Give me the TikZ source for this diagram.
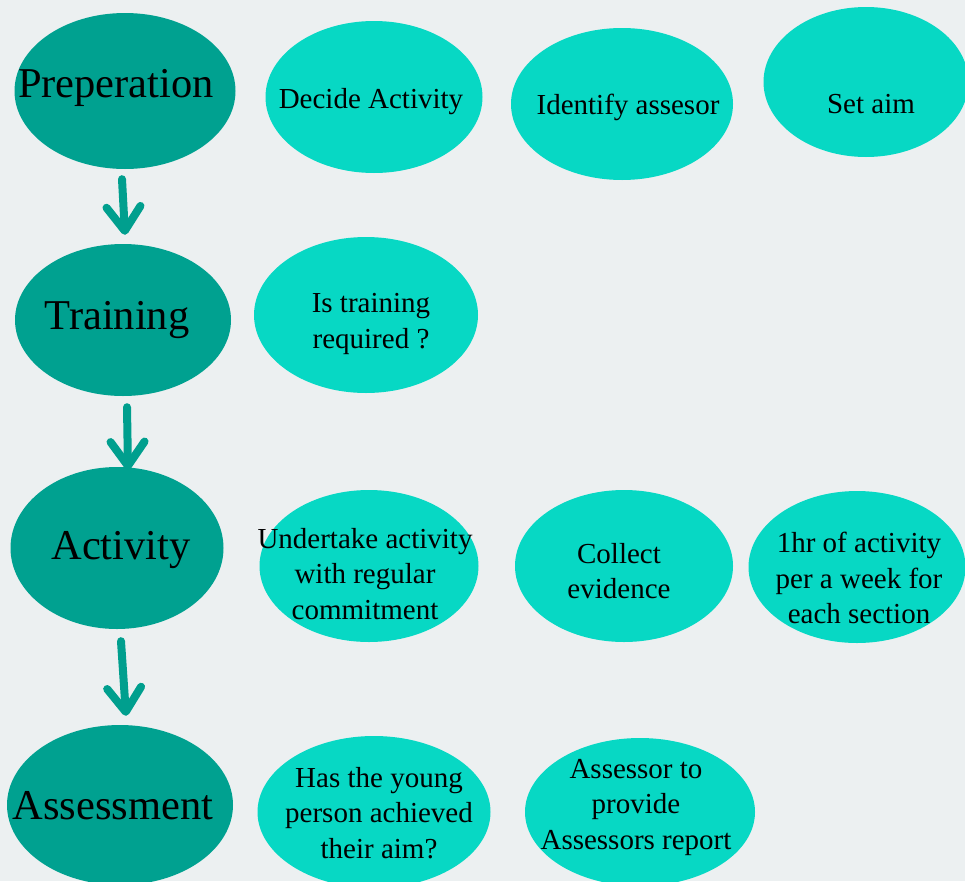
\documentclass[tikz,border=0pt]{standalone}
\usepackage{fontspec}
\setmainfont{Liberation Serif}
\usetikzlibrary{shapes.geometric,arrows.meta,calc}
\definecolor{bgc}{HTML}{ECF0F1}
\definecolor{darkteal}{HTML}{00A190}
\definecolor{lightteal}{HTML}{07D8C4}
\definecolor{arrc}{HTML}{009F8E}
\tikzset{
  darkell/.style={ellipse, fill=darkteal, draw=none, inner sep=0pt},
  lightell/.style={ellipse, fill=lightteal, draw=none, inner sep=0pt},
  bigtxt/.style={font=\fontsize{42.5}{48}\selectfont, text=black, inner sep=0pt},
  smalltxt/.style={font=\fontsize{29}{35.5}\selectfont, text=black, align=center, inner sep=0pt},
  flowarrow/.style={draw=arrc, line width=8pt, line cap=round,
    -{Straight Barb[length=24pt, width=34pt, line width=8pt, round]}}
}
\begin{document}
\begin{tikzpicture}[x=1pt,y=-1pt]
\fill[bgc] (0,0) rectangle (965,881);
\useasboundingbox (0,0) rectangle (965,881);
\begin{scope}
\clip (0,0) rectangle (965,881);
% left column
\node[darkell, minimum width=221pt, minimum height=156pt] (prep) at (125,91) {};
\node[darkell, minimum width=216pt, minimum height=152pt] (train) at (123,320) {};
\node[darkell, minimum width=213pt, minimum height=162pt] (act) at (117,548) {};
\node[darkell, minimum width=226pt, minimum height=160pt] (assess) at (120,805) {};
% row 1
\node[lightell, minimum width=217pt, minimum height=152pt] (decide) at (374,97) {};
\node[lightell, minimum width=222pt, minimum height=152pt] (ident) at (622,104) {};
\node[lightell, minimum width=205pt, minimum height=150pt] (aim) at (866,82) {};
% row 2
\node[lightell, minimum width=224pt, minimum height=156pt] (req) at (366,315) {};
% row 3
\node[lightell, minimum width=219pt, minimum height=152pt] (under) at (369,566) {};
\node[lightell, minimum width=218pt, minimum height=152pt] (collect) at (624,566) {};
\node[lightell, minimum width=217pt, minimum height=152pt] (hour) at (857,567) {};
% row 4
\node[lightell, minimum width=233pt, minimum height=152pt] (young) at (374,812) {};
\node[lightell, minimum width=230pt, minimum height=148pt] (report) at (640,812) {};
\end{scope}
% texts
\node[bigtxt] (tprep) at (116,88) {Preperation};
\node[bigtxt] (ttrain) at (117,320) {Training};
\node[bigtxt] (tact) at (121,550) {Activity};
\node[bigtxt] (tassess) at (113,806) {Assessment};
\node[smalltxt] (tdecide) at (371,102) {Decide Activity};
\node[smalltxt] (tident) at (628,107) {Identify assesor};
\node[smalltxt] (taim) at (871,104) {Set aim};
\node[smalltxt] (treq) at (371,324) {Is training\\required ?};
\node[smalltxt] (tunder) at (365,574) {Undertake activity\\with regular\\commitment};
\node[smalltxt] (tcollect) at (619,571) {Collect\\evidence};
\node[smalltxt] (thour) at (859,578) {1hr of activity\\per a week for\\each section};
\node[smalltxt] (tyoung) at (379,813) {Has the young\\person achieved\\their aim?};
\node[smalltxt] (treport) at (636,807) {Assessor to\\provide\\Assessors report};
% arrows
\draw[flowarrow] ($(prep.south)+(-3,10)$) -- ($(train.north)+(2,-9)$);
\draw[flowarrow] ($(train.south)+(4,11)$) -- ($(act.north)+(11,3)$);
\draw[flowarrow] ($(act.south)+(4,12)$) -- ($(assess.north)+(6,-9)$);
\end{tikzpicture}
\end{document}
